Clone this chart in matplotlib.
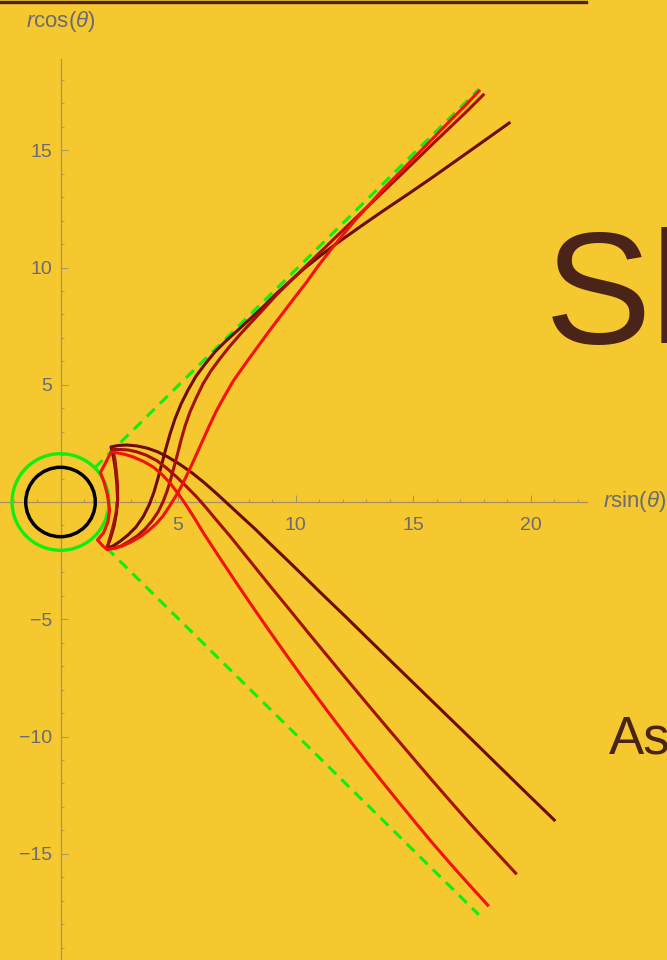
import numpy as np
import matplotlib.pyplot as plt
from matplotlib.lines import Line2D
from matplotlib.patches import Circle

plt.rcParams['font.family'] = ['Liberation Sans', 'DejaVu Sans']
plt.rcParams['mathtext.fontset'] = 'custom'
plt.rcParams['mathtext.rm'] = 'Liberation Sans'
plt.rcParams['mathtext.it'] = 'Liberation Sans:italic'

# trajectories (r sin(theta), r cos(theta)): outgoing lower arm -> turning region -> upper arm
ray_dark = [(21.01, -13.56), (19.55, -12.14), (18.49, -11.10), (17.43, -10.06), (16.36, -9.02),
            (15.30, -7.99), (14.23, -6.95), (13.17, -5.91), (12.11, -4.87), (11.04, -3.84),
            (10.32, -3.13), (9.60, -2.43), (8.91, -1.77), (8.28, -1.15), (7.68, -0.60),
            (7.13, -0.09), (6.62, 0.38), (6.11, 0.83), (5.60, 1.24), (5.09, 1.60), (4.57, 1.92),
            (4.11, 2.15), (3.68, 2.30), (3.26, 2.39), (2.83, 2.43), (2.45, 2.41), (2.15, 2.35),
            (2.26, 1.88), (2.34, 1.36), (2.40, 0.72), (2.43, 0.09), (2.38, -0.47), (2.28, -1.02),
            (2.13, -1.54), (1.97, -1.97),
            (2.23, -1.88), (2.53, -1.68), (2.87, -1.41), (3.21, -1.07), (3.51, -0.64),
            (3.77, -0.13), (3.98, 0.43), (4.15, 1.02), (4.32, 1.66), (4.49, 2.30), (4.66, 2.90),
            (4.87, 3.54), (5.13, 4.18), (5.43, 4.78), (5.77, 5.37), (6.15, 5.88), (6.57, 6.40),
            (7.04, 6.87), (7.55, 7.33), (8.06, 7.80), (8.62, 8.32), (9.17, 8.87), (9.77, 9.42),
            (10.40, 9.98), (11.04, 10.49), (11.77, 11.04), (12.74, 11.73), (13.72, 12.41),
            (14.79, 13.13), (15.85, 13.86), (16.91, 14.61), (17.98, 15.37), (19.09, 16.16)]
ray_mid = [(19.37, -15.83), (18.28, -14.65), (17.43, -13.72), (16.57, -12.74), (15.72, -11.76),
           (14.87, -10.76), (14.02, -9.76), (13.17, -8.75), (12.32, -7.73), (11.47, -6.70),
           (10.62, -5.67), (9.77, -4.62), (8.91, -3.57), (8.06, -2.51), (7.21, -1.45),
           (6.65, -0.79), (6.21, -0.26), (5.80, 0.21), (5.36, 0.66), (4.94, 1.07), (4.51, 1.45),
           (4.09, 1.77), (3.64, 2.00), (3.24, 2.14), (2.87, 2.22), (2.53, 2.24), (2.23, 2.24),
           (2.32, 1.79), (2.38, 1.28), (2.43, 0.68), (2.43, 0.09), (2.36, -0.51), (2.23, -1.07),
           (2.09, -1.58), (1.98, -1.98),
           (2.28, -1.96), (2.57, -1.88), (2.91, -1.68), (3.26, -1.45), (3.60, -1.15),
           (3.89, -0.81), (4.15, -0.43), (4.36, 0.00), (4.53, 0.45), (4.68, 0.94), (4.83, 1.49),
           (4.98, 2.05), (5.13, 2.64), (5.30, 3.24), (5.51, 3.84), (5.77, 4.43), (6.06, 5.03),
           (6.40, 5.59), (6.79, 6.12), (7.21, 6.65), (7.68, 7.19), (8.19, 7.74), (8.70, 8.29),
           (9.21, 8.85), (9.77, 9.40), (10.40, 10.02), (11.04, 10.64), (11.68, 11.26),
           (12.32, 11.88), (13.03, 12.56), (13.74, 13.24), (14.45, 13.92), (15.16, 14.61),
           (15.86, 15.29), (16.57, 15.97), (17.29, 16.66), (17.99, 17.36)]
ray_red = [(18.18, -17.19), (17.29, -16.21), (16.57, -15.40), (15.86, -14.58), (15.16, -13.74),
           (14.45, -12.87), (13.74, -11.99), (13.03, -11.10), (12.32, -10.18), (11.61, -9.25),
           (10.90, -8.30), (10.19, -7.33), (9.48, -6.34), (8.77, -5.33), (8.06, -4.30),
           (7.35, -3.25), (6.65, -2.19), (6.08, -1.32), (5.72, -0.72), (5.37, -0.17),
           (5.02, 0.34), (4.66, 0.81), (4.32, 1.17), (3.95, 1.49), (3.53, 1.73), (3.10, 1.92),
           (2.74, 2.03), (2.45, 2.09), (2.15, 2.13),
           (1.94, 1.71), (1.70, 1.26), (1.85, 0.85), (2.00, 0.30), (2.09, -0.34), (2.02, -0.85),
           (1.83, -1.32), (1.57, -1.62), (1.79, -1.86), (1.98, -2.03),
           (2.28, -1.98), (2.62, -1.88), (3.00, -1.71), (3.38, -1.49), (3.72, -1.24),
           (4.06, -0.94), (4.36, -0.60), (4.62, -0.21), (4.87, 0.19), (5.13, 0.64), (5.36, 1.11),
           (5.60, 1.62), (5.83, 2.13), (6.06, 2.64), (6.32, 3.22), (6.62, 3.86), (6.96, 4.48),
           (7.35, 5.16), (7.89, 5.93), (8.40, 6.63), (8.91, 7.33), (9.48, 8.08), (9.98, 8.74),
           (10.49, 9.40), (10.96, 10.06), (11.47, 10.72), (12.02, 11.39), (12.57, 12.05),
           (13.17, 12.71), (13.74, 13.35), (14.45, 14.07), (15.16, 14.80), (15.86, 15.52),
           (16.57, 16.25), (17.21, 16.89), (17.81, 17.53)]
ray_colors = ['#6e0b06', '#a4100a', '#f21208']

# asymptotes and circles
asym_upper = [(1.45, 1.45), (17.8, 17.6)]
asym_lower = [(1.95, -1.95), (17.8, -17.6)]
r_outer = 2.06
r_inner = 1.48

x_ticks = [5, 10, 15, 20]
y_ticks = [-15, -10, -5, 5, 10, 15]

bg = '#f4c82e'
axis_col = '#a89062'
label_col = '#6c6a74'
brown = '#4a2418'

fig = plt.figure(figsize=(6.67, 9.6), dpi=100, facecolor=bg)
ax = fig.add_axes([0, 0, 1, 1], facecolor=bg)
ax.set_xlim(-60.5 / 23.5, (667 - 60.5) / 23.5)
ax.set_ylim(-458 / 23.45, 502 / 23.45)

for side in ['top', 'right']:
    ax.spines[side].set_visible(False)
ax.spines['left'].set_position(('data', 0))
ax.spines['bottom'].set_position(('data', 0))
ax.spines['left'].set_bounds(-19.6, 18.9)
ax.spines['bottom'].set_bounds(-2.6, 22.4)
for side in ['left', 'bottom']:
    ax.spines[side].set_color(axis_col)
    ax.spines[side].set_linewidth(0.9)

ax.set_xticks(x_ticks)
ax.set_yticks(y_ticks)
ax.set_xticks(np.arange(-2, 23), minor=True)
ax.set_yticks(np.arange(-19, 19), minor=True)
ax.tick_params(which='major', direction='in', length=4.8, width=0.7, color=axis_col,
               labelsize=14, labelcolor=label_col)
ax.tick_params(which='minor', direction='in', length=2.4, width=0.6, color=axis_col)
ax.tick_params(axis='x', pad=11)
ax.tick_params(axis='y', pad=6)

ax.plot(*zip(*asym_upper), color='#10ee10', lw=2.2, ls=(0, (3.6, 2.4)), zorder=2)
ax.plot(*zip(*asym_lower), color='#10ee10', lw=2.2, ls=(0, (3.6, 2.4)), zorder=2)
ax.add_patch(Circle((0, 0), r_outer, fill=False, ec='#10ee10', lw=2.4, zorder=3))
ax.add_patch(Circle((0, 0), r_inner, fill=False, ec='black', lw=2.5, zorder=3))

for ray, c in zip([ray_dark, ray_mid, ray_red], ray_colors):
    pts = np.array(ray)
    ax.plot(pts[:, 0], pts[:, 1], color=c, lw=2.2, solid_joinstyle='round', zorder=4)

fig.text(61 / 667, 1 - 22 / 960, r'$r\mathrm{cos}(\theta)$', ha='center', va='center',
         fontsize=16, color=label_col)
fig.text(603 / 667, 1 - 502 / 960, r'$r\mathrm{sin}(\theta)$', ha='left', va='center',
         fontsize=16, color=label_col)

# slide decoration
fig.add_artist(Line2D([0, 586 / 667], [1 - 1.5 / 960] * 2, color=brown, lw=2.4))
fig.text(545 / 667, 1 - 343 / 960, 'Sl', ha='left', va='baseline', fontsize=115, color=brown)
fig.text(609 / 667, 1 - 753 / 960, 'Ast', ha='left', va='baseline', fontsize=38, color=brown)

fig.savefig('out.png', dpi=100, facecolor=bg)
